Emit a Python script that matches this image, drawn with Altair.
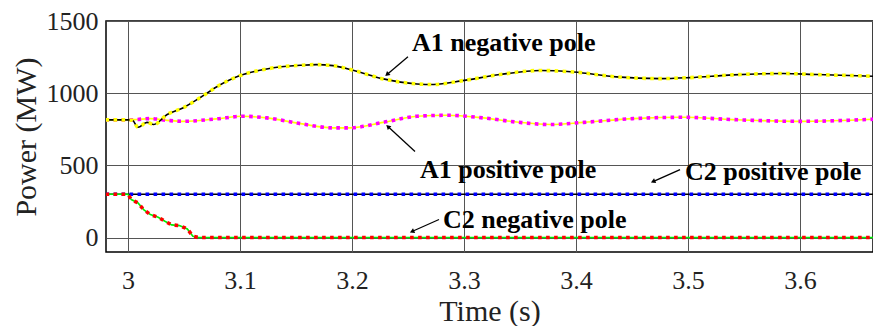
import altair as alt
import pandas as pd

# ---- data ----
a1n_t = [2.98, 3.0, 3.004, 3.009, 3.017, 3.023, 3.035, 3.049, 3.064, 3.079, 3.1, 3.124, 3.154,
         3.168, 3.183, 3.201, 3.228, 3.258, 3.273, 3.299, 3.332, 3.368, 3.398, 3.436, 3.475,
         3.502, 3.540, 3.585, 3.615, 3.672]
a1n_v = [815, 815, 812, 764, 798, 783, 852, 898, 967, 1043, 1122, 1168, 1193,
         1198, 1191, 1159, 1099, 1064, 1060, 1087, 1129, 1157, 1147, 1113, 1101,
         1108, 1127, 1136, 1129, 1116]

a1p_t = [2.98, 3.0, 3.008, 3.020, 3.035, 3.049, 3.079, 3.103, 3.124, 3.154, 3.183, 3.198,
         3.228, 3.258, 3.285, 3.317, 3.347, 3.377, 3.407, 3.451, 3.496, 3.540, 3.600, 3.672]
a1p_v = [815, 815, 818, 824, 812, 805, 822, 840, 829, 789, 760, 760,
         798, 840, 847, 829, 800, 783, 798, 824, 833, 817, 805, 822]

c2p_t = [2.98, 3.672]
c2p_v = [300, 300]

c2n_t = [2.98, 3.0, 3.003, 3.009, 3.014, 3.020, 3.027, 3.033, 3.039, 3.046, 3.053, 3.058, 3.063, 3.672]
c2n_v = [300, 300, 263, 240, 194, 159, 141, 113, 88, 83, 60, 9, 0, 0]

series_names = ["C2 positive pole", "C2 negative pole", "A1 positive pole", "A1 negative pole"]
under_colors = ["#000000", "#00ee00", "#ffff00", "#000000"]
over_colors = ["#0000ff", "#ff0000", "#ff00ff", "#ffff00"]

# annotation labels and arrows (data coordinates)
lab_text = ["A1 negative pole", "A1 positive pole", "C2 positive pole", "C2 negative pole"]
lab_t = [3.2536, 3.2607, 3.4973, 3.2813]
lab_v = [1295, 415, 402, 69]
arr_t0 = [3.2500, 3.2563, 3.4929, 3.2777]
arr_v0 = [1253, 596, 471, 125]
arr_t1 = [3.2313, 3.2321, 3.4688, 3.2536]
arr_v1 = [1129, 769, 388, 42]
arr_angle = [229, 313, 246, 246]

x_ticks = [3, 3.1, 3.2, 3.3, 3.4, 3.5, 3.6]
y_ticks = [0, 500, 1000, 1500]

# ---- build tables ----
rows = []
for i, (name, ts, vs) in enumerate(zip(series_names, [c2p_t, c2n_t, a1p_t, a1n_t],
                                       [c2p_v, c2n_v, a1p_v, a1n_v])):
    for t, v in zip(ts, vs):
        rows.append({"t": t, "v": v, "series": name, "order": i})
df = pd.DataFrame(rows)

ann = pd.DataFrame({"text": lab_text, "t": lab_t, "v": lab_v})
arr = pd.DataFrame({"t0": arr_t0, "v0": arr_v0, "t1": arr_t1, "v1": arr_v1, "angle": arr_angle})

xs = alt.Scale(domain=[2.9804, 3.6652], nice=False, zero=False)
ys = alt.Scale(domain=[-100, 1500], nice=False, zero=False)

X = alt.X("t:Q", scale=xs,
          axis=alt.Axis(values=x_ticks, format="~g", title="Time (s)", grid=True))
Y = alt.Y("v:Q", scale=ys,
          axis=alt.Axis(values=y_ticks, format="d", title="Power (MW)", grid=True))

layers = []
for i, name in enumerate(series_names):
    sub = df[df.series == name]
    interp = "monotone" if name.startswith("A1") else "linear"
    under = alt.Chart(sub).mark_line(color=under_colors[i], strokeWidth=1.6,
                                     interpolate=interp, clip=True).encode(x=X, y=Y)
    over = alt.Chart(sub).mark_line(color=over_colors[i], strokeWidth=3.6, strokeDash=[3.6, 4.4],
                                    strokeCap="butt", interpolate=interp, clip=True).encode(x=X, y=Y)
    layers += [under, over]

arrow_lines = alt.Chart(arr).mark_rule(color="black", strokeWidth=1.3).encode(
    x="t0:Q", y="v0:Q", x2="t1:Q", y2="v1:Q")
arrow_heads = alt.Chart(arr).mark_point(shape="triangle-up", filled=True, color="black",
                                        size=28, opacity=1).encode(
    x="t1:Q", y="v1:Q", angle=alt.Angle("angle:Q", scale=None))
labels = alt.Chart(ann).mark_text(align="left", baseline="alphabetic", font="Liberation Serif",
                                  fontWeight="bold", fontSize=26, color="black").encode(
    x="t:Q", y="v:Q", text="text:N")

chart = alt.layer(*layers, arrow_lines, arrow_heads, labels).properties(
    width=767, height=231,
    autosize=alt.AutoSizeParams(type="none"),
    padding={"left": 98, "top": 13, "right": 0, "bottom": 74},
).configure_view(
    stroke="black", strokeWidth=1.5
).configure_axis(
    labelFont="Liberation Serif", titleFont="Liberation Serif",
    labelFontSize=26, titleFontSize=30, labelColor="#222222", titleColor="#222222",
    titleFontWeight="normal", domain=False, ticks=False,
    gridColor="#555555", gridWidth=1, gridOpacity=1,
).configure_axisX(
    labelPadding=15, titlePadding=3
).configure_axisY(
    labelPadding=8, titlePadding=5
)

chart.save("out.html", embed_options={"renderer": "svg", "actions": False})
